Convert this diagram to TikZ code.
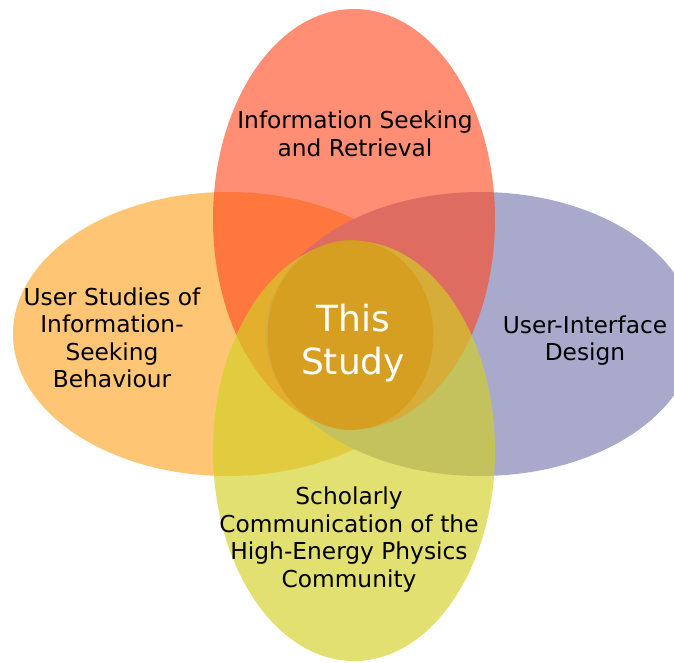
\documentclass[tikz,border=0pt]{standalone}
\usepackage{fontspec}
\setmainfont{DejaVu Sans}
\usetikzlibrary{shapes.geometric}
\definecolor{usersorange}{HTML}{FDC574}
\definecolor{uipurple}   {HTML}{A9A9CB}
\definecolor{irred}      {HTML}{FF481F}
\definecolor{hepyellow}  {HTML}{D3D023}
\definecolor{studycore}  {HTML}{D79C1D}
\tikzset{
  petal/.style={ellipse,draw=none,inner sep=0pt},
  areatext/.style={align=center,text=black,font=\fontsize{23.3}{27.5}\selectfont},
  coretext/.style={align=center,text=white,font=\fontsize{36}{43}\selectfont}
}

\begin{document}
\begin{tikzpicture}[x=1pt,y=-1pt]
\useasboundingbox (0,0) rectangle (674,662);
% the four fields
\node[petal,fill=usersorange,minimum width=430pt,minimum height=284pt] (users) at (228,334) {};
\node[petal,fill=uipurple,minimum width=430pt,minimum height=284pt] (ui) at (480,334) {};
\node[petal,fill=irred,fill opacity=0.62,minimum width=282pt,minimum height=420pt] (ir) at (354,219) {};
\node[petal,fill=hepyellow,fill opacity=0.65,minimum width=282pt,minimum height=420pt] (hep) at (354,451) {};
% the overlap
\node[petal,fill=studycore,fill opacity=0.8,minimum width=166pt,minimum height=190pt] (core) at (350.5,335) {};
% labels
\node[areatext] (irtext) at (355,134) {Information Seeking\\and Retrieval};
\node[areatext] (userstext) at (112,338) {User Studies of\\Information-\\Seeking\\Behaviour};
\node[areatext] (uitext) at (585,340.5) {User-Interface\\Design};
\node[areatext] (heptext) at (349,539.5) {Scholarly\\Communication of the\\High-Energy Physics\\Community};
\node[coretext] (coretextnode) at (353,343) {This\\Study};
\end{tikzpicture}
\end{document}
